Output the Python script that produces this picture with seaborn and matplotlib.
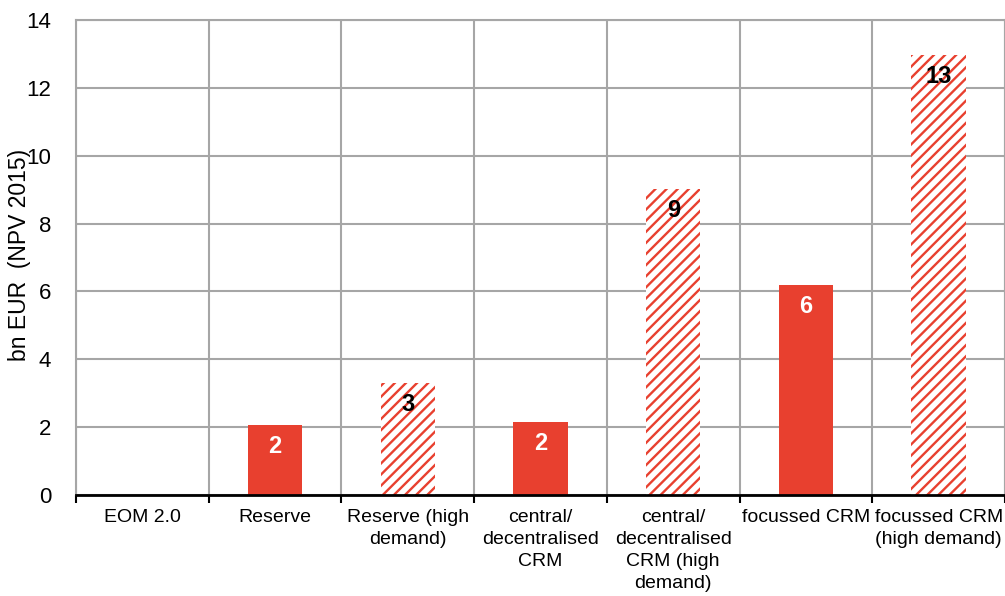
import matplotlib
matplotlib.use("Agg")
import matplotlib.pyplot as plt
import seaborn as sns
import pandas as pd
import numpy as np

categories = ["EOM 2.0", "Reserve", "Reserve (high\ndemand)", "central/\ndecentralised\nCRM",
              "central/\ndecentralised\nCRM (high\ndemand)", "focussed CRM", "focussed CRM\n(high demand)"]
values = [0.0, 2.06, 3.3, 2.15, 9.03, 6.2, 12.97]
value_labels = ["", "2", "3", "2", "9", "6", "13"]
hatched = [False, False, True, False, True, False, True]

RED = "#E8402F"
GRID = "#A6A6A6"

sns.set_theme(style="white")
plt.rcParams['font.family'] = ['Liberation Sans', 'DejaVu Sans']
plt.rcParams['hatch.linewidth'] = 1.7
plt.rcParams['text.color'] = 'black'
plt.rcParams['xtick.color'] = 'black'
plt.rcParams['ytick.color'] = 'black'
plt.rcParams['xtick.labelcolor'] = 'black'
plt.rcParams['ytick.labelcolor'] = 'black'

fig = plt.figure(figsize=(10.05, 5.96), dpi=100)
ax = fig.add_axes([76/1005, (596-495)/596, (1005-76)/1005, (495-20)/596])

df = pd.DataFrame({"cat": categories, "val": values})
sns.barplot(data=df, x="cat", y="val", color=RED, width=0.41, saturation=1, ax=ax)

for p, h in zip(ax.patches, hatched):
    if h:
        p.set_facecolor("white")
        p.set_edgecolor(RED)
        p.set_hatch("///")
        p.set_linewidth(0)
    else:
        p.set_linewidth(0)

for p, lab, h in zip(ax.patches, value_labels, hatched):
    if not lab:
        continue
    ax.annotate(lab, (p.get_x() + p.get_width()/2, p.get_height()),
                xytext=(0, -15.5), textcoords="offset points",
                ha="center", va="center", fontsize=17, fontweight="bold",
                color="black" if h else "white")

ax.set_xlim(-0.5, 6.5)
ax.set_ylim(0, 14)
ax.set_yticks(np.arange(0, 15, 2))
ax.set_xticks(np.arange(len(categories)))
ax.set_xticklabels(categories, fontsize=14, linespacing=1.38, color="black")
ax.set_xticks(np.arange(-0.5, 7, 1), minor=True)
ax.tick_params(axis="x", which="major", length=0, pad=10)
ax.tick_params(axis="x", which="minor", length=6, width=1.5, color="black", direction="out", bottom=True)
ax.tick_params(axis="y", length=0, pad=18, labelsize=16, labelcolor="black")
ax.set_xlabel("")
ax.set_ylabel("")

ax.grid(axis="y", which="major", color=GRID, linewidth=1.5)
ax.grid(axis="x", which="minor", color=GRID, linewidth=1.5)
ax.set_axisbelow(True)
for s in ["left", "right", "top"]:
    ax.spines[s].set_color(GRID)
    ax.spines[s].set_linewidth(1.5)
ax.spines["bottom"].set_color("black")
ax.spines["bottom"].set_linewidth(2)
ax.spines["bottom"].set_zorder(5)

fig.text(20/1005, 1 - 255/596, "bn EUR  (NPV 2015)", rotation=90, ha="center", va="center",
         fontsize=16.5, color="black")

fig.savefig("out.png", dpi=100)
